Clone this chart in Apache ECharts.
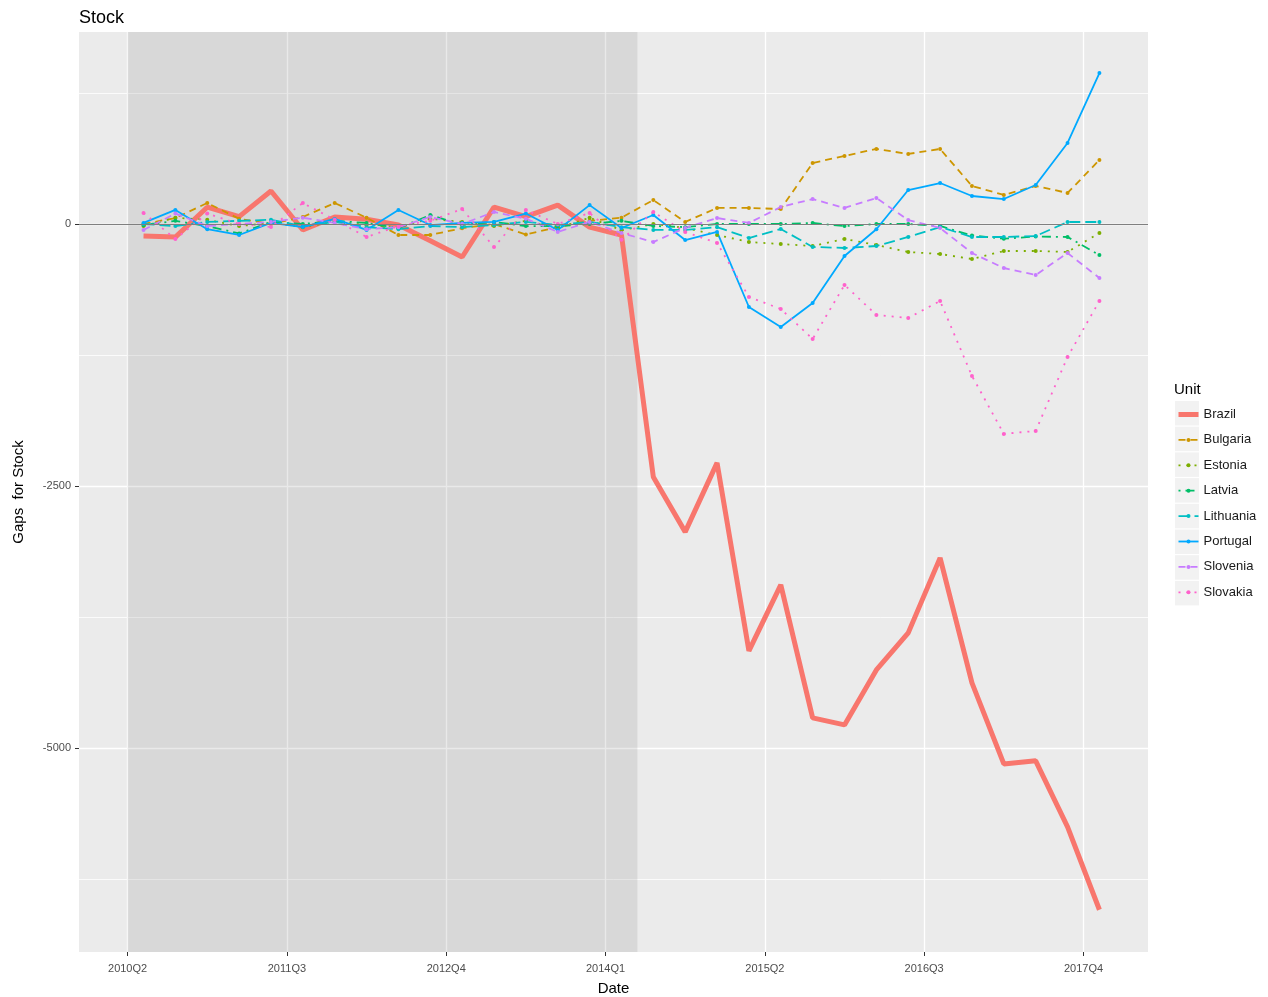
<!DOCTYPE html>
<html>
<head>
<meta charset="utf-8">
<script src="https://cdn.jsdelivr.net/npm/echarts@6/dist/echarts.min.js"></script>
<style>
html, body { margin: 0; background: #fff; }
#main { width: 1268px; height: 997px; }
</style>
</head>
<body>
<div id="main"></div>
<script>
// quarters of the observations (one point per quarter, plotted mid-quarter)
var quarters = [
	'2010Q2', '2010Q3', '2010Q4',
	'2011Q1', '2011Q2', '2011Q3', '2011Q4',
	'2012Q1', '2012Q2', '2012Q3', '2012Q4',
	'2013Q1', '2013Q2', '2013Q3', '2013Q4',
	'2014Q1', '2014Q2', '2014Q3', '2014Q4',
	'2015Q1', '2015Q2', '2015Q3', '2015Q4',
	'2016Q1', '2016Q2', '2016Q3', '2016Q4',
	'2017Q1', '2017Q2', '2017Q3', '2017Q4'
];
var tickQuarters = ['2010Q2', '2011Q3', '2012Q4', '2014Q1', '2015Q2', '2016Q3', '2017Q4'];
var shadeFrom = '2010Q2';
var shadeTo = '2014Q2';

var units = ['Brazil', 'Bulgaria', 'Estonia', 'Latvia', 'Lithuania', 'Portugal', 'Slovenia', 'Slovakia'];

var brazil = [-115, -125, 160, 70, 315, -57, 67, 45, -10, -160, -315, 160, 70, 180, -30, -105,
	-2414, -2938, -2280, -4074, -3444, -4713, -4780, -4255, -3902, -3186, -4379, -5152, -5123, -5753, -6544];
var bulgaria = [0, 57, 200, 50, 0, 67, 200, 60, -105, -105, -40, 0, -100, -30, 30, 60,
	229, 19, 153, 153, 143, 582, 649, 716, 668, 716, 363, 277, 363, 296, 611];
var estonia = [-20, 60, 40, -20, 10, -30, 20, -10, -30, 50, 20, -20, 30, -40, 60, -60,
	0, -38, -105, -172, -191, -210, -143, -200, -267, -286, -334, -258, -258, -267, -86];
var latvia = [-10, 30, -20, -90, 20, 0, 30, 10, -40, 86, -10, 20, -20, -20, 0, 30,
	-19, -30, 0, 0, 0, 10, -20, 0, 0, -19, -110, -140, -120, -124, -296];
var lithuania = [0, -20, 20, 30, 40, -20, 20, -30, -50, -20, -30, -10, 20, -10, 20, -30,
	-57, -57, -30, -134, -48, -219, -229, -210, -124, -29, -124, -124, -115, 19, 19];
var portugal = [10, 134, -50, -105, 10, -29, 48, -57, 134, -10, 10, 20, 100, -57, 180, -38,
	86, -153, -76, -792, -983, -754, -305, -50, 324, 391, 267, 238, 372, 773, 1440];
var slovenia = [-57, 100, -20, 0, 20, 60, 10, -50, -30, 67, 0, 115, 50, -76, 20, -86,
	-172, -38, 57, 10, 162, 238, 153, 248, 38, -38, -277, -420, -487, -277, -515];
var slovakia = [105, -143, 100, 0, -29, 200, 40, -124, -20, 30, 143, -220, 134, 0, 105, -150,
	115, -76, -181, -696, -811, -1097, -582, -868, -897, -735, -1450, -2003, -1975, -1269, -735];

var values = [brazil, bulgaria, estonia, latvia, lithuania, portugal, slovenia, slovakia];

var yMajor = [-5000, -2500, 0];
var yMinor = [-6250, -3750, -1250, 1250];

// look of each line (ggplot default hue palette)
var looks = [
	{ color: '#F8766D', width: 5, type: 'solid' },
	{ color: '#CD9600', width: 1.8, type: [7, 5] },
	{ color: '#7CAE00', width: 1.8, type: [2, 6] },
	{ color: '#00BE67', width: 1.8, type: [2, 5, 9, 5] },
	{ color: '#00BFC4', width: 1.8, type: [11, 5] },
	{ color: '#00A9FF', width: 1.8, type: 'solid' },
	{ color: '#C77CFF', width: 1.8, type: [7, 5] },
	{ color: '#FF61CC', width: 1.8, type: [2, 6] }
];

var FONT = '"Liberation Sans", Arial, sans-serif';

// 2010Q2 -> 0, one unit per quarter
function qIndex(label) {
	var y = parseInt(label.slice(0, 4), 10);
	var q = parseInt(label.slice(5), 10);
	return (y - 2010) * 4 + (q - 2);
}
function qLabel(v) {
	var n = Math.round(v) + 1;
	return (2010 + Math.floor(n / 4)) + 'Q' + (n % 4 + 1);
}

var xTicks = tickQuarters.map(qIndex);
var xMin = -1.525, xMax = 32.025;   // ggplot 5% expansion
var yMin = -6947, yMax = 1832;

var series = units.map(function (name, k) {
	var lk = looks[k];
	var s = {
		name: name,
		type: 'line',
		data: values[k].map(function (v, i) { return [qIndex(quarters[i]) + 0.5, v]; }),
		symbol: 'circle',
		symbolSize: k === 0 ? 0 : 4,
		showSymbol: true,
		itemStyle: { color: lk.color },
		lineStyle: { color: lk.color, width: lk.width, type: lk.type },
		emphasis: { disabled: true },
		animation: false
	};
	if (k === 0) {
		s.markArea = {
			silent: true,
			itemStyle: { color: 'rgba(127,127,127,0.17)' },
			data: [[{ xAxis: qIndex(shadeFrom) }, { xAxis: qIndex(shadeTo) }]]
		};
		s.markLine = {
			silent: true,
			symbol: 'none',
			label: { show: false },
			lineStyle: { color: '#7f7f7f', width: 1.2, type: 'solid' },
			data: [{ yAxis: 0 }]
		};
	}
	return s;
});

// grey legend key backgrounds
var keyBoxes = units.map(function (u, k) {
	return {
		type: 'rect',
		shape: { x: 1175, y: 401 + k * 25.7, width: 24, height: 24.5 },
		style: { fill: '#F2F2F2' },
		z: -1
	};
});

var legendItems = units.map(function (u, k) {
	return { name: u, lineStyle: { width: looks[k].width, type: looks[k].type } };
});

var myChart = echarts.init(document.getElementById('main'));
var option = {
	backgroundColor: '#fff',
	animation: false,
	title: [{
		text: 'Stock',
		left: 74,
		top: 4,
		textStyle: { fontFamily: FONT, fontSize: 18, fontWeight: 'normal', color: '#000' }
	}, {
		text: 'Unit',
		left: 1169,
		top: 377,
		textStyle: { fontFamily: FONT, fontSize: 15, fontWeight: 'normal', color: '#000' }
	}],
	graphic: keyBoxes,
	legend: {
		data: legendItems,
		orient: 'vertical',
		left: 1171,
		top: 403,
		itemWidth: 20,
		itemHeight: 5,
		itemGap: 12.4,
		textStyle: { fontFamily: FONT, fontSize: 13, color: '#1a1a1a' },
		selectedMode: false
	},
	grid: {
		left: 79, top: 32, width: 1069, height: 920,
		show: true, backgroundColor: '#EBEBEB', borderWidth: 0,
		containLabel: false,
		outerBoundsMode: 'none'
	},
	xAxis: {
		type: 'value',
		min: xMin,
		max: xMax,
		name: 'Date',
		nameLocation: 'middle',
		nameGap: 29,
		nameTextStyle: { fontFamily: FONT, fontSize: 15, color: '#000' },
		axisLine: { show: false, onZero: false },
		axisTick: { show: true, length: 4, customValues: xTicks, lineStyle: { color: '#333' } },
		axisLabel: {
			customValues: xTicks,
			formatter: qLabel,
			margin: 11,
			fontFamily: FONT, fontSize: 11, color: '#4d4d4d'
		},
		splitLine: { show: true, lineStyle: { color: '#fff', width: 1.3 } }
	},
	yAxis: [{
		type: 'value',
		min: yMin,
		max: yMax,
		name: 'Gaps  for Stock',
		nameLocation: 'middle',
		nameGap: 53,
		nameTextStyle: { fontFamily: FONT, fontSize: 15, color: '#000' },
		axisLine: { show: false, onZero: false },
		axisTick: { show: true, length: 4, customValues: yMajor, lineStyle: { color: '#333' } },
		axisLabel: {
			customValues: yMajor,
			formatter: function (v) { return String(v); },
			margin: 8,
			fontFamily: FONT, fontSize: 11, color: '#4d4d4d'
		},
		splitLine: { show: true, lineStyle: { color: '#fff', width: 1.3 } }
	}, {
		type: 'value',
		min: yMin,
		max: yMax,
		position: 'left',
		axisLine: { show: false, onZero: false },
		axisTick: { show: false, customValues: yMinor },
		axisLabel: { show: false, customValues: yMinor },
		splitLine: { show: true, lineStyle: { color: '#fff', width: 0.8 } }
	}],
	series: series
};
myChart.setOption(option);
</script>
</body>
</html>
